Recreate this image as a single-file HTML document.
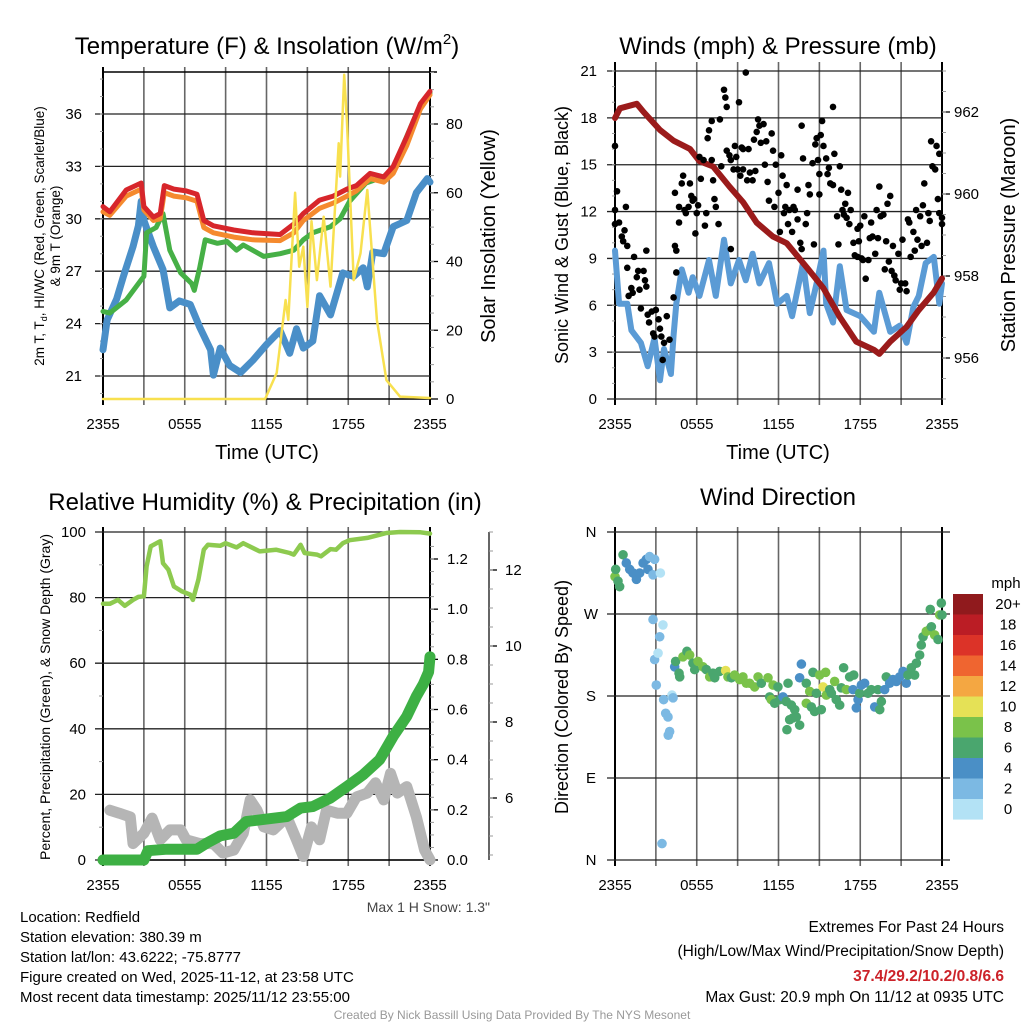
<!DOCTYPE html>
<html>
<head>
<meta charset="utf-8">
<style>
html,body{margin:0;padding:0;background:#fff;}
svg{display:block;font-family:"Liberation Sans",sans-serif;}
</style>
</head>
<body>
<svg id="fig" width="1024" height="1024" viewBox="0 0 1024 1024" xmlns="http://www.w3.org/2000/svg">
<rect width="1024" height="1024" fill="#fff"/>
<!-- titles -->
<text x="267" y="54" font-size="24" text-anchor="middle">Temperature (F) &amp; Insolation (W/m<tspan font-size="15" dy="-10">2</tspan><tspan dy="10">)</tspan></text>
<text x="778" y="54" font-size="24" text-anchor="middle">Winds (mph) &amp; Pressure (mb)</text>
<text x="265" y="510" font-size="24" text-anchor="middle">Relative Humidity (%) &amp; Precipitation (in)</text>
<text x="778" y="505" font-size="24" text-anchor="middle">Wind Direction</text>
<!-- axis titles -->
<text x="267" y="459" font-size="20" text-anchor="middle">Time (UTC)</text>
<text x="778" y="459" font-size="20" text-anchor="middle">Time (UTC)</text>
<text transform="translate(44,236) rotate(-90)" font-size="13.5" text-anchor="middle">2m T, T<tspan font-size="9" dy="3">d</tspan><tspan dy="-3">, HI/WC (Red, Green, Scarlet/Blue)</tspan></text>
<text transform="translate(60,236) rotate(-90)" font-size="13.5" text-anchor="middle">&amp; 9m T (Orange)</text>
<text transform="translate(495,236) rotate(-90)" font-size="20" text-anchor="middle">Solar Insolation (Yellow)</text>
<text transform="translate(568,235) rotate(-90)" font-size="18" text-anchor="middle">Sonic Wind &amp; Gust (Blue, Black)</text>
<text transform="translate(1015,235) rotate(-90)" font-size="20" text-anchor="middle">Station Pressure (Maroon)</text>
<text transform="translate(50,697) rotate(-90)" font-size="14" text-anchor="middle">Percent, Precipitation (Green), &amp; Snow Depth (Gray)</text>
<text transform="translate(568,697) rotate(-90)" font-size="18" text-anchor="middle">Direction (Colored By Speed)</text>
<!-- footer -->
<text x="490" y="912" font-size="14" fill="#444" text-anchor="end">Max 1 H Snow: 1.3"</text>
<g font-size="15">
<text x="20" y="922">Location: Redfield</text>
<text x="20" y="942">Station elevation: 380.39 m</text>
<text x="20" y="962">Station lat/lon: 43.6222; -75.8777</text>
<text x="20" y="982">Figure created on Wed, 2025-11-12, at 23:58 UTC</text>
<text x="20" y="1002">Most recent data timestamp: 2025/11/12 23:55:00</text>
</g>
<g font-size="15.5" text-anchor="end">
<text x="1004" y="932">Extremes For Past 24 Hours</text>
<text x="1004" y="956">(High/Low/Max Wind/Precipitation/Snow Depth)</text>
<text x="1004" y="981" font-weight="bold" fill="#cc2229">37.4/29.2/10.2/0.8/6.6</text>
<text x="1004" y="1002">Max Gust: 20.9 mph On 11/12 at 0935 UTC</text>
</g>
<text x="512" y="1019" font-size="12" fill="#999" text-anchor="middle">Created By Nick Bassill Using Data Provided By The NYS Mesonet</text>
<!-- colorbar legend -->
<text x="1006" y="588" font-size="15" text-anchor="middle">mph</text>
<g id="cbar"></g>
<g id="plots"></g>
</svg>
<script>
// ---------- DATA ----------
const xTickLabels = ["2355","0555","1155","1755","2355"];
const tempTicks = [21,24,27,30,33,36];
const solarTicks = [0,20,40,60,80];
const windTicks = [0,3,6,9,12,15,18,21];
const presTicks = [956,958,960,962];
const rhTicks = [0,20,40,60,80,100];
const precipTicks = [0.0,0.2,0.4,0.6,0.8,1.0,1.2];
const snowTicks = [6,8,10,12];
const dirTicks = [0,90,180,270,360];
const dirLabels = ["N","E","S","W","N"];
const speedBinLabels = ["20+","18","16","14","12","10","8","6","4","2","0"];
const speedBinColors = ["#901a1d","#bb1d25","#dc3328","#ef6530","#f4a742","#e5e156","#7ac24a","#4aa66e","#4a8fc6","#7cb9e3","#b3e2f5"];

const redHours = [0,0.5,1.7,2.8,3.0,3.7,4.2,4.5,5.2,6.1,6.9,7.4,8.1,9.6,11.0,13.0,14.0,14.7,15.9,16.9,17.9,18.6,19.6,20.6,21.3,22.3,23.3,24];
const redTemps = [30.7,30.4,31.65,32.05,30.7,30.1,30.3,31.9,31.7,31.6,31.4,29.9,29.6,29.36,29.2,29.1,29.7,30.3,31.07,31.3,31.7,31.9,32.6,32.4,33.0,34.7,36.6,37.3];
const orangeTemps = [30.4,30.2,31.3,31.7,30.5,29.9,30.0,31.5,31.3,31.2,31.0,29.5,29.2,28.95,28.8,28.75,29.2,29.9,30.6,30.9,31.3,31.6,32.3,32.1,32.6,34.2,36.3,37.1];
const greenHours = [0,0.5,1.7,2.8,3.0,3.2,3.9,4.4,4.9,5.7,6.5,6.7,7.1,7.5,8.4,9.1,9.8,10.3,11.8,13.0,14.0,14.7,15.4,16.7,17.4,18.1,19.3,20.6,21.3,22.8,24];
const greenTemps = [24.7,24.6,25.35,26.5,26.7,29.2,29.5,30.3,28.2,26.9,26.3,25.9,27.2,28.8,28.6,28.7,28.2,28.5,27.85,28.0,28.2,28.8,29.2,29.55,30.0,31.0,32.05,32.4,32.9,35.65,37.2];
const dewHours = [0,0.3,1.0,1.5,2.2,2.6,2.8,3.0,3.7,4.4,4.9,5.6,6.4,7.1,7.9,8.1,8.6,9.3,10.1,11.0,12.0,13.0,13.7,14.2,14.7,15.4,15.9,16.7,17.6,18.4,19.1,19.4,19.8,20.6,21.3,22.3,23.0,23.8,24];
const dewTemps = [22.5,24.2,25.4,26.7,28.4,29.6,31.0,29.9,28.4,27.1,24.9,25.3,25.1,23.8,22.5,21.05,22.6,21.6,21.2,21.9,22.8,23.6,22.3,23.7,22.6,23.0,25.6,24.5,26.9,26.7,27.2,26.1,28.1,28.0,29.55,29.9,31.5,32.3,32.1];
const solarHours = [0,11.9,12.75,13.4,13.6,14.1,14.4,14.7,15.0,15.3,15.7,16.2,16.7,17.3,17.4,17.7,17.9,18.4,18.9,19.4,20.1,20.8,21.8,24];
const solarValues = [0,0,7.6,28.8,23,60,38.5,44.3,26.8,51.7,34.6,53,32.7,74.4,64.7,94.3,81,34.6,42.4,60.8,23,5.5,0.7,0.3];

const presHours = [0,0.37,1.6,2.1,3.3,4.3,5.5,6.2,7.2,8.4,9.4,10.4,11.6,12.6,14.1,15.3,16.5,17.7,19.0,19.4,20.2,21.4,22.3,23.4,24];
const presValues = [961.85,962.09,962.2,962.0,961.56,961.3,961.1,960.8,960.67,960.18,959.8,959.3,958.96,958.8,958.2,957.7,957.0,956.4,956.2,956.1,956.4,956.76,957.17,957.6,957.94];
const windHours = [0,0.3,0.9,1.2,1.9,2.4,2.9,3.3,3.6,4.1,4.3,4.5,4.9,5.4,5.7,6.2,6.9,7.4,8.0,8.5,9.1,9.6,10.1,10.6,11.3,11.9,12.6,13.0,13.8,14.3,14.8,15.3,15.5,16.0,16.5,17.0,18.0,19.0,19.4,20.2,20.9,21.4,21.9,22.3,22.8,23.4,23.8,24];
const windSpeeds = [9.5,6.1,6.1,4.4,3.6,2.1,3.9,1.2,3.2,1.6,4.1,6.1,8.3,6.8,7.8,6.6,8.9,6.6,10.2,7.4,8.9,7.6,9.3,7.4,8.7,6.1,6.6,5.3,8.7,5.5,7.4,9.5,6.1,4.9,8.5,5.7,5.3,4.3,6.8,4.3,4.7,3.6,5.9,6.6,8.7,9.1,6.1,7.4];
const gustHours = [0,0,0,0.15,0.3,0.5,0.6,0.7,0.8,0.9,0.9,1.0,1.2,1.3,1.4,1.6,1.7,1.8,1.9,2.1,2.2,2.3,2.3,2.4,2.5,2.7,2.8,2.9,3.0,3.2,3.3,3.4,3.5,3.6,3.8,4.0,4.3,4.4,4.5,4.5,4.4,4.7,4.7,4.9,5.0,5.1,5.2,5.4,5.5,5.6,5.7,5.8,5.9,6.0,6.1,6.2,6.3,6.5,6.6,6.7,6.8,6.9,7.1,7.1,7.2,7.3,7.4,7.6,7.7,7.8,8.0,8.1,8.2,8.2,8.4,8.5,8.5,8.7,8.8,8.9,9.0,9.1,9.2,9.3,9.4,9.4,9.6,9.7,9.8,9.9,10.1,10.2,10.3,10.4,10.5,10.6,10.7,10.9,11.0,11.1,11.2,11.3,11.5,11.6,11.7,11.8,12.0,12.1,12.2,12.3,12.4,12.5,12.6,12.7,12.8,13.0,13.1,13.2,13.4,13.4,13.6,13.7,13.7,13.8,14.0,14.1,14.2,14.3,14.5,14.6,14.7,14.8,14.9,15.0,15.0,15.1,15.2,15.3,15.5,15.6,15.7,15.8,16.0,16.0,16.1,16.3,16.4,16.5,16.6,16.7,16.8,16.9,17.0,17.1,17.2,17.3,17.5,17.6,17.8,17.8,17.9,18.0,18.1,18.2,18.3,18.4,18.6,18.7,18.8,18.9,19.1,19.2,19.3,19.4,19.5,19.7,19.8,19.9,20.0,20.1,20.2,20.3,20.4,20.5,20.6,20.8,20.9,21.0,21.1,21.3,21.4,21.5,21.6,21.7,21.9,22.0,22.1,22.2,22.4,22.5,22.6,22.7,22.9,23.0,23.1,23.2,23.3,23.5,23.6,23.7,23.8,23.8,24.0,24.0];
const gustSpeeds = [16.2,12.1,11.2,13.3,11.3,10.4,10.1,10.8,12.3,9.8,8.4,6.6,7.1,6.8,9.1,7.8,8.2,7.0,5.8,8.2,7.6,9.5,7.2,5.4,4.9,5.6,4.2,4.0,5.7,5.1,4.5,4.0,2.5,3.6,5.3,3.8,6.5,9.8,9.5,8.1,13.2,11.3,12.3,13.8,14.3,12.1,11.9,12.3,13.8,13.0,12.7,12.8,10.6,11.9,12.4,15.5,14.1,15.3,11.1,11.9,16.7,17.2,17.8,15.3,14.0,12.8,12.3,11.2,17.9,14.9,19.8,19.3,18.7,15.9,15.6,15.3,9.6,14.7,16.2,15.5,14.7,19.0,14.3,16.1,14.7,16.0,20.9,14.0,16.0,14.5,14.0,16.6,14.6,17.1,17.9,17.5,16.4,17.6,15.0,16.5,13.9,12.7,17.0,15.9,12.3,15.0,13.2,10.7,15.6,14.3,11.9,12.3,13.7,11.2,12.1,10.7,12.3,12.1,11.5,13.4,10.0,9.6,17.5,15.4,11.2,11.9,13.7,13.1,15.1,9.9,16.3,16.7,15.3,13.1,14.4,16.9,17.8,16.2,15.4,14.4,14.8,13.8,13.7,18.7,15.7,11.7,9.9,14.9,13.4,12.1,11.8,12.5,11.6,13.2,11.2,12.1,10.0,9.2,9.1,10.9,10.1,11.1,9.0,8.9,11.7,7.7,8.9,10.3,11.3,10.4,9.3,12.1,10.3,13.6,11.7,11.8,8.3,10.1,12.5,8.8,13.0,8.2,9.8,7.9,7.6,9.3,7.0,7.4,10.2,7.4,6.9,11.5,11.3,9.1,10.7,9.5,12.1,10.2,11.7,9.8,12.4,13.8,10.0,11.9,11.4,16.5,14.9,14.7,16.2,12.8,11.9,15.7,11.6,11.2];

const rhHours = [0,0.5,1.1,1.6,2.2,2.6,3.0,3.2,3.5,4.2,4.4,4.8,5.2,5.8,6.4,6.6,7.0,7.4,7.7,8.6,9.0,9.8,10.3,11.5,12.7,13.7,14.0,14.5,14.8,15.7,16.0,16.7,17.1,17.6,18.1,19.4,20.8,21.8,23.3,24];
const rhValues = [78.1,78.1,79.3,77.5,79.3,80.2,80.4,89.5,95.6,97.2,90.5,88.5,83.4,81.9,80.9,79.3,85.5,94.6,96.1,95.8,96.6,95.3,96.6,94.1,94.6,93.6,93.1,96.1,93.6,93.1,92.6,94.8,94.6,96.6,97.5,98.2,99.7,100,99.9,99.5];
const precipHours = [0,3.0,3.3,4.7,6.9,7.6,8.6,9.6,10.5,12.0,13.5,14.5,15.4,16.7,17.9,19.1,20.3,21.3,22.3,23.0,23.5,23.9,24];
const precipValues = [0,0,0.037,0.043,0.043,0.067,0.096,0.107,0.153,0.163,0.173,0.207,0.213,0.247,0.293,0.34,0.4,0.493,0.573,0.653,0.7,0.75,0.81];
const snowHours = [0.5,1.2,2.0,2.2,3.0,3.6,4.2,4.9,5.7,6.1,7.1,8.1,8.8,9.6,10.3,10.8,11.3,11.8,12.5,13.5,14.2,14.7,15.3,15.9,16.4,17.2,17.9,18.6,19.4,20.0,20.6,21.1,21.6,22.3,23.0,23.6,24];
const snowDepth = [5.68,5.6,5.5,4.8,5.07,5.47,4.9,5.16,5.16,4.9,4.8,4.8,4.55,4.63,5.07,5.95,5.68,5.24,5.16,5.5,4.9,4.46,5.24,4.9,5.68,5.6,5.6,6.03,6.13,6.4,5.95,6.65,6.13,6.3,5.5,4.63,4.37];

const dirHours = [0,0.05,0.34,0.22,0.59,0.83,1.08,1.32,1.57,1.81,2.06,2.30,2.54,2.42,2.79,2.91,3.33,2.79,3.52,3.28,2.91,3.16,3.03,3.57,4.18,4.26,3.72,3.89,4.01,3.91,3.45,4.38,4.45,4.70,4.75,4.99,5.28,5.48,5.72,5.85,6.09,6.46,6.70,6.95,7.19,7.32,7.68,8.12,8.29,8.54,8.78,9.15,9.39,9.64,9.88,10.25,10.50,10.74,11.23,11.60,11.35,11.47,11.72,11.96,12.09,12.33,12.57,12.70,12.94,13.19,13.31,12.82,13.06,13.55,12.62,13.68,13.55,14.04,14.29,14.53,14.78,14.04,14.41,14.65,15.02,15.27,15.46,15.14,15.51,15.76,15.88,16.12,16.24,16.49,16.61,16.78,16.98,17.22,17.47,17.52,17.71,17.84,17.96,18.08,18.32,18.57,18.81,19.06,19.30,19.43,19.55,19.79,19.91,20.16,20.40,20.65,20.89,21.14,21.38,21.50,21.75,21.99,22.12,22.36,22.48,22.61,22.85,23.10,23.22,23.46,23.71,23.14,23.83,23.95,24];
const dirDegrees = [311,319,300,306,335,326,319,315,308,315,326,330,333,319,313,330,315,264,258,245,220,227,192,176,181,178,161,157,141,137,18,212,218,205,201,223,229,225,216,209,218,212,209,201,205,200,207,208,201,200,203,198,201,194,194,190,201,194,200,192,179,176,172,190,176,179,174,194,170,165,157,154,156,148,143,215,200,194,185,206,183,172,168,163,203,190,206,165,181,187,183,196,176,170,189,211,187,201,187,203,167,176,183,192,194,183,187,168,187,165,174,187,201,194,198,196,201,207,194,203,211,203,216,225,236,245,251,253,256,247,242,275,269,282,269];
const dirSpeeds = [9,7,6,7,7,5,4,4,4,4,4,4,3,4,2,3,1,3,1,3,3,1,3,2,1,2,2,2,2,2,2,4,7,6,6,8,6,8,7,6,8,8,7,8,7,6,7,10,8,7,8,8,8,8,8,8,8,7,8,8,6,8,6,6,7,4,6,6,7,6,6,6,6,6,6,4,4,6,8,6,6,8,6,7,8,10,8,7,8,7,6,8,6,6,6,6,8,6,4,6,4,4,6,4,4,6,6,4,6,6,7,4,6,4,4,4,4,4,4,6,6,6,6,6,6,6,8,8,7,8,7,6,8,6,7];

// ---------- SCALES ----------
const X0 = 103, X1 = 430, XR0 = 615, XR1 = 942;
const sxL = h => X0 + h * (X1 - X0) / 24;
const sxR = h => XR0 + h * (XR1 - XR0) / 24;
const tY = t => 114 + (36 - t) * (376 - 114) / 15;
const solY = s => 399 - s * (399 - 124) / 80;
const wY = w => 399 - w * (399 - 71) / 21;
const pY = p => 112 + (962 - p) * (358 - 112) / 6;
const rhY = r => 860 - r * (860 - 532) / 100;
const prY = p => 860 - p * (860 - 559) / 1.2;
const snY = s => 798 - (s - 6) * (798 - 722) / 2;
const dY = d => 860 - d * (860 - 532) / 360;

const NS = "http://www.w3.org/2000/svg";
const plots = document.getElementById("plots");
function mk(tag, attrs, parent) {
  const e = document.createElementNS(NS, tag);
  for (const k in attrs) e.setAttribute(k, attrs[k]);
  (parent || plots).appendChild(e);
  return e;
}
function pathD(xs, ys, fx, fy) {
  return xs.map((h, i) => (i ? "L" : "M") + fx(h).toFixed(1) + "," + fy(ys[i]).toFixed(1)).join("");
}
function speedColor(s) {
  const idx = Math.min(10, Math.floor(s / 2));
  return speedBinColors[10 - idx];
}

// ---------- FRAMES / GRIDS ----------
function vGrid(x0, x1, yT, yB, nm) {
  for (let i = 0; i <= 8; i++) {
    const x = x0 + i * (x1 - x0) / 8;
    const ln = mk("line", {x1: x, x2: x, y1: yT - 5, y2: yB + 6, stroke: (i === 0 || i === 8) ? "#000" : "#666", "stroke-width": (i === 0 || i === 8) ? 2 : 1.6});
    
    
  }
}
function xLabels(x0, x1, y, nm) {
  xTickLabels.forEach((lab, i) => {
    const t = mk("text", {x: x0 + i * (x1 - x0) / 4, y: y, "font-size": 15, "text-anchor": "middle"});
    t.textContent = lab;
    
    
  });
}
function hLine(y, x0, x1, nm, col, w) {
  const ln = mk("line", {x1: x0, x2: x1, y1: y, y2: y, stroke: col || "#222", "stroke-width": w || 1.3});
  
  
}
function label(x, y, txt, anchor, nm, size) {
  const t = mk("text", {x: x, y: y, "font-size": size || 15, "text-anchor": anchor});
  t.textContent = txt;
  
  
}

// Panel 1: temperature
vGrid(X0, X1, 72, 399, "temperature");
hLine(72, X0, X1 + 7, "temperature-top-border", "#000", 1.5);
hLine(399, X0, X1, "temperature-bottom-border", "#000", 1.5);
tempTicks.forEach(t => { hLine(tY(t), X0 - 8, X1, "temperature-hgrid"); label(82, tY(t) + 5, String(t), "end", "temperature-y-tick-label"); });
for (let t = 20; t <= 38; t++) hLine(tY(t), X0 - 3, X0, "temperature-minor-tick", "#999", 1);
solarTicks.forEach(s => { hLine(solY(s), X1, X1 + 8, "solar-tick", "#000", 1.3); label(446, solY(s) + 5, String(s), "start", "solar-y-tick-label"); });
for (let s = 5; s <= 95; s += 5) hLine(solY(s), X1, X1 + 4, "solar-minor-tick", "#999", 1);
xLabels(X0, X1, 429, "temperature");

// Panel 2: winds
vGrid(XR0, XR1, 67, 399, "winds");
windTicks.forEach(w => { hLine(wY(w), XR0 - 8, XR1, "winds-hgrid"); label(597, wY(w) + 5, String(w), "end", "wind-y-tick-label"); });
for (let w = 1; w <= 21; w++) hLine(wY(w), XR0 - 3, XR0, "wind-minor-tick", "#999", 1);
presTicks.forEach(p => { hLine(pY(p), XR1, XR1 + 8, "pressure-tick", "#000", 1.3); label(954, pY(p) + 5, String(p), "start", "pressure-y-tick-label"); });
for (let p = 955; p <= 963; p += 0.5) hLine(pY(p), XR1, XR1 + 4, "pressure-minor-tick", "#999", 1);
xLabels(XR0, XR1, 429, "winds");

// Panel 3: humidity
vGrid(X0, X1, 532, 860, "humidity");
rhTicks.forEach(r => { hLine(rhY(r), X0 - 8, X1, "humidity-hgrid"); label(86, rhY(r) + 5, String(r), "end", "humidity-y-tick-label"); });
for (let r = 10; r <= 90; r += 20) hLine(rhY(r), X0 - 4, X0, "humidity-minor-tick", "#999", 1);
precipTicks.forEach(p => { hLine(prY(p), X1, X1 + 8, "precip-tick", "#000", 1.3); label(447, prY(p) + 5, p.toFixed(1), "start", "precip-y-tick-label"); });
for (let p = 0.05; p <= 1.3; p += 0.05) hLine(prY(p), X1, X1 + 4, "precip-minor-tick", "#999", 1);
hLine(860, X0, X1, "humidity-bottom-border", "#000", 1.5);
{ const ln = mk("line", {x1: 489, x2: 489, y1: 532, y2: 860, stroke: "#333", "stroke-width": 1.5});
  
   }
snowTicks.forEach(s => { hLine(snY(s), 489, 497, "snow-tick", "#000", 1.3); label(505, snY(s) + 5, String(s), "start", "snow-y-tick-label"); });
for (let s = 4.5; s <= 13; s += 0.5) hLine(snY(s), 489, 493, "snow-minor-tick", "#999", 1);
xLabels(X0, X1, 890, "humidity");

// Panel 4: direction
vGrid(XR0, XR1, 532, 860, "direction");
dirTicks.forEach((d, i) => { hLine(dY(d), XR0 - 8, XR1 + 8, "direction-hgrid"); label(591, dY(d) + 5, dirLabels[i], "middle", "direction-y-tick-label"); });
xLabels(XR0, XR1, 890, "direction");

// ---------- SERIES ----------
function series(xs, ys, fx, fy, col, w, nm) {
  const p = mk("path", {d: pathD(xs, ys, fx, fy), fill: "none", stroke: col, "stroke-width": w, "stroke-linejoin": "round", "stroke-linecap": "round"});
  
  
  return p;
}
series(dewHours, dewTemps, sxL, tY, "#4a8fc8", 7, "dewpoint-line");
series(greenHours, greenTemps, sxL, tY, "#46b046", 5, "heat-index-line");
series(redHours, orangeTemps, sxL, tY, "#f58a2e", 5, "temp-9m-line");
series(redHours, redTemps, sxL, tY, "#d7262b", 5, "temp-2m-line");
series(solarHours, solarValues, sxL, solY, "#f8e04f", 2.5, "solar-line");

series(windHours, windSpeeds, sxR, wY, "#5b9bd5", 6, "wind-speed-line");
series(presHours, presValues, sxR, pY, "#9b1b1b", 6, "pressure-line");
gustHours.forEach((h, i) => {
  const c = mk("circle", {cx: sxR(h), cy: wY(gustSpeeds[i]), r: 3.3, fill: "#000"});
  
  
});

series(snowHours, snowDepth, sxL, snY, "#b5b5b5", 11, "snow-depth-line");
series(rhHours, rhValues, sxL, rhY, "#8dca4f", 4.5, "humidity-line");
series(precipHours, precipValues, sxL, prY, "#3db044", 11, "precip-line");

dirHours.forEach((h, i) => {
  const c = mk("circle", {cx: sxR(h), cy: dY(dirDegrees[i]), r: 4.8, fill: speedColor(dirSpeeds[i])});
  
  
});

// ---------- COLORBAR ----------
const cbar = document.getElementById("cbar");
speedBinLabels.forEach((lab, i) => {
  const r = mk("rect", {x: 953, y: 594 + i * 20.5, width: 30, height: 20.6, fill: speedBinColors[i]}, cbar);
  
  
  const t = mk("text", {x: 1008, y: 609 + i * 20.5, "font-size": 15, "text-anchor": "middle"}, cbar);
  t.textContent = lab;
  
  
});
</script>
</body>
</html>
